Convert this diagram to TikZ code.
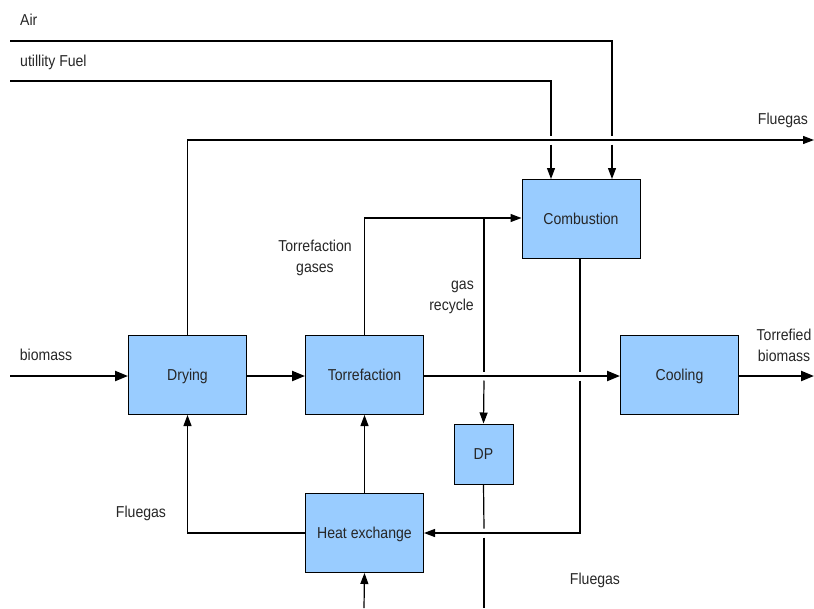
\documentclass[tikz,border=0pt]{standalone}
\usepackage{fontspec}
\setmainfont{Liberation Sans}[FakeStretch=0.89]
\usetikzlibrary{arrows.meta,calc}
\begin{document}
\begin{tikzpicture}[x=1pt,y=-1pt,
  font=\fontsize{15.8}{21}\selectfont,
  box/.style={draw=black,line width=1pt,fill=boxblue,minimum width=118pt,minimum height=79pt,inner sep=0pt,text height=11.3pt,text depth=0pt,text=black!85},
  smallbox/.style={box,minimum width=59pt,minimum height=60pt},
  thin/.style={line width=1.2pt,-{Triangle[length=11pt,width=8pt]}},
  plain/.style={line width=1.2pt},
  thick/.style={line width=2.2pt,-{Triangle[length=13pt,width=10pt]}},
  lbl/.style={inner sep=0pt,align=center,text=black!85}]
\definecolor{boxblue}{HTML}{99CCFF}
\useasboundingbox (0,0) rectangle (814,608);
% boxes
\node[box] (comb) at (581,218.5) {Combustion};
\node[box] (dry) at (187.5,375) {Drying};
\node[box] (torr) at (364.5,375) {Torrefaction};
\node[box] (cool) at (679.5,375) {Cooling};
\node[smallbox] (dp) at (483.5,454) {DP};
\node[box] (hx) at (364.5,533) {Heat exchange};
% free ends
\coordinate (airin) at (10,41);
\coordinate (fuelin) at (10,81);
\coordinate (fgout) at (814,140);
\coordinate (bioin) at (10,376);
\coordinate (bioout) at (814,376);
\coordinate (dpout) at (484,608);
\coordinate (hxin) at (364,608);
% labels
\node[lbl,anchor=west] (lair) at (20,20) {Air};
\node[lbl,anchor=west] (lfuel) at (20,62) {utillity Fuel};
\node[lbl] (lfg1) at (783,120) {Fluegas};
\node[lbl] (ltg) at (315,258) {Torrefaction\\gases};
\node[lbl,align=right,anchor=east] (lgr) at (474,297) {gas\\recycle};
\node[lbl] (lbio) at (46,355) {biomass};
\node[lbl] (ltb) at (784,345) {Torrefied\\biomass};
\node[lbl] (lfg2) at (141,513) {Fluegas};
\node[lbl] (lfg3) at (595,580) {Fluegas};
% air and fuel
\draw[plain] (airin) -- (612,41) -- (612,135.5);
\draw[thin] (612,144.5) -- (612,179);
\draw[plain] (fuelin) -- (551,81) -- (551,135.5);
\draw[thin] (551,144.5) -- (551,179);
% fluegas from drying
\draw[thin] (dry.north) -- (187.5,140) -- (fgout);
% torrefaction gases
\draw[thin] (torr.north) -- (364.5,218) -- (comb.west |- 0,218);
% gas recycle
\draw[plain] (484,218) -- (484,371.5);
\draw[thin] (484,380.5) -- (dp.north);
% combustion fluegas to heat exchange
\draw[plain] (580,258) -- (580,371.5);
\draw[thin] (580,380.5) -- (580,533) -- (hx.east |- 0,533);
% DP outlet
\draw[plain] (dp.south) -- (484,528.5);
\draw[plain] (484,537.5) -- (dpout);
% heat exchange
\draw[thin] (hx.north) -- (torr.south);
\draw[thin] (hx.west) -- (187.5,533) -- (dry.south);
\draw[thin] (hxin) -- (hx.south);
% main line
\draw[thick] (bioin) -- (dry.west |- 0,376);
\draw[thick] (dry.east |- 0,376) -- (torr.west |- 0,376);
\draw[thick] (torr.east |- 0,376) -- (cool.west |- 0,376);
\draw[thick] (cool.east |- 0,376) -- (bioout);
\end{tikzpicture}
\end{document}
